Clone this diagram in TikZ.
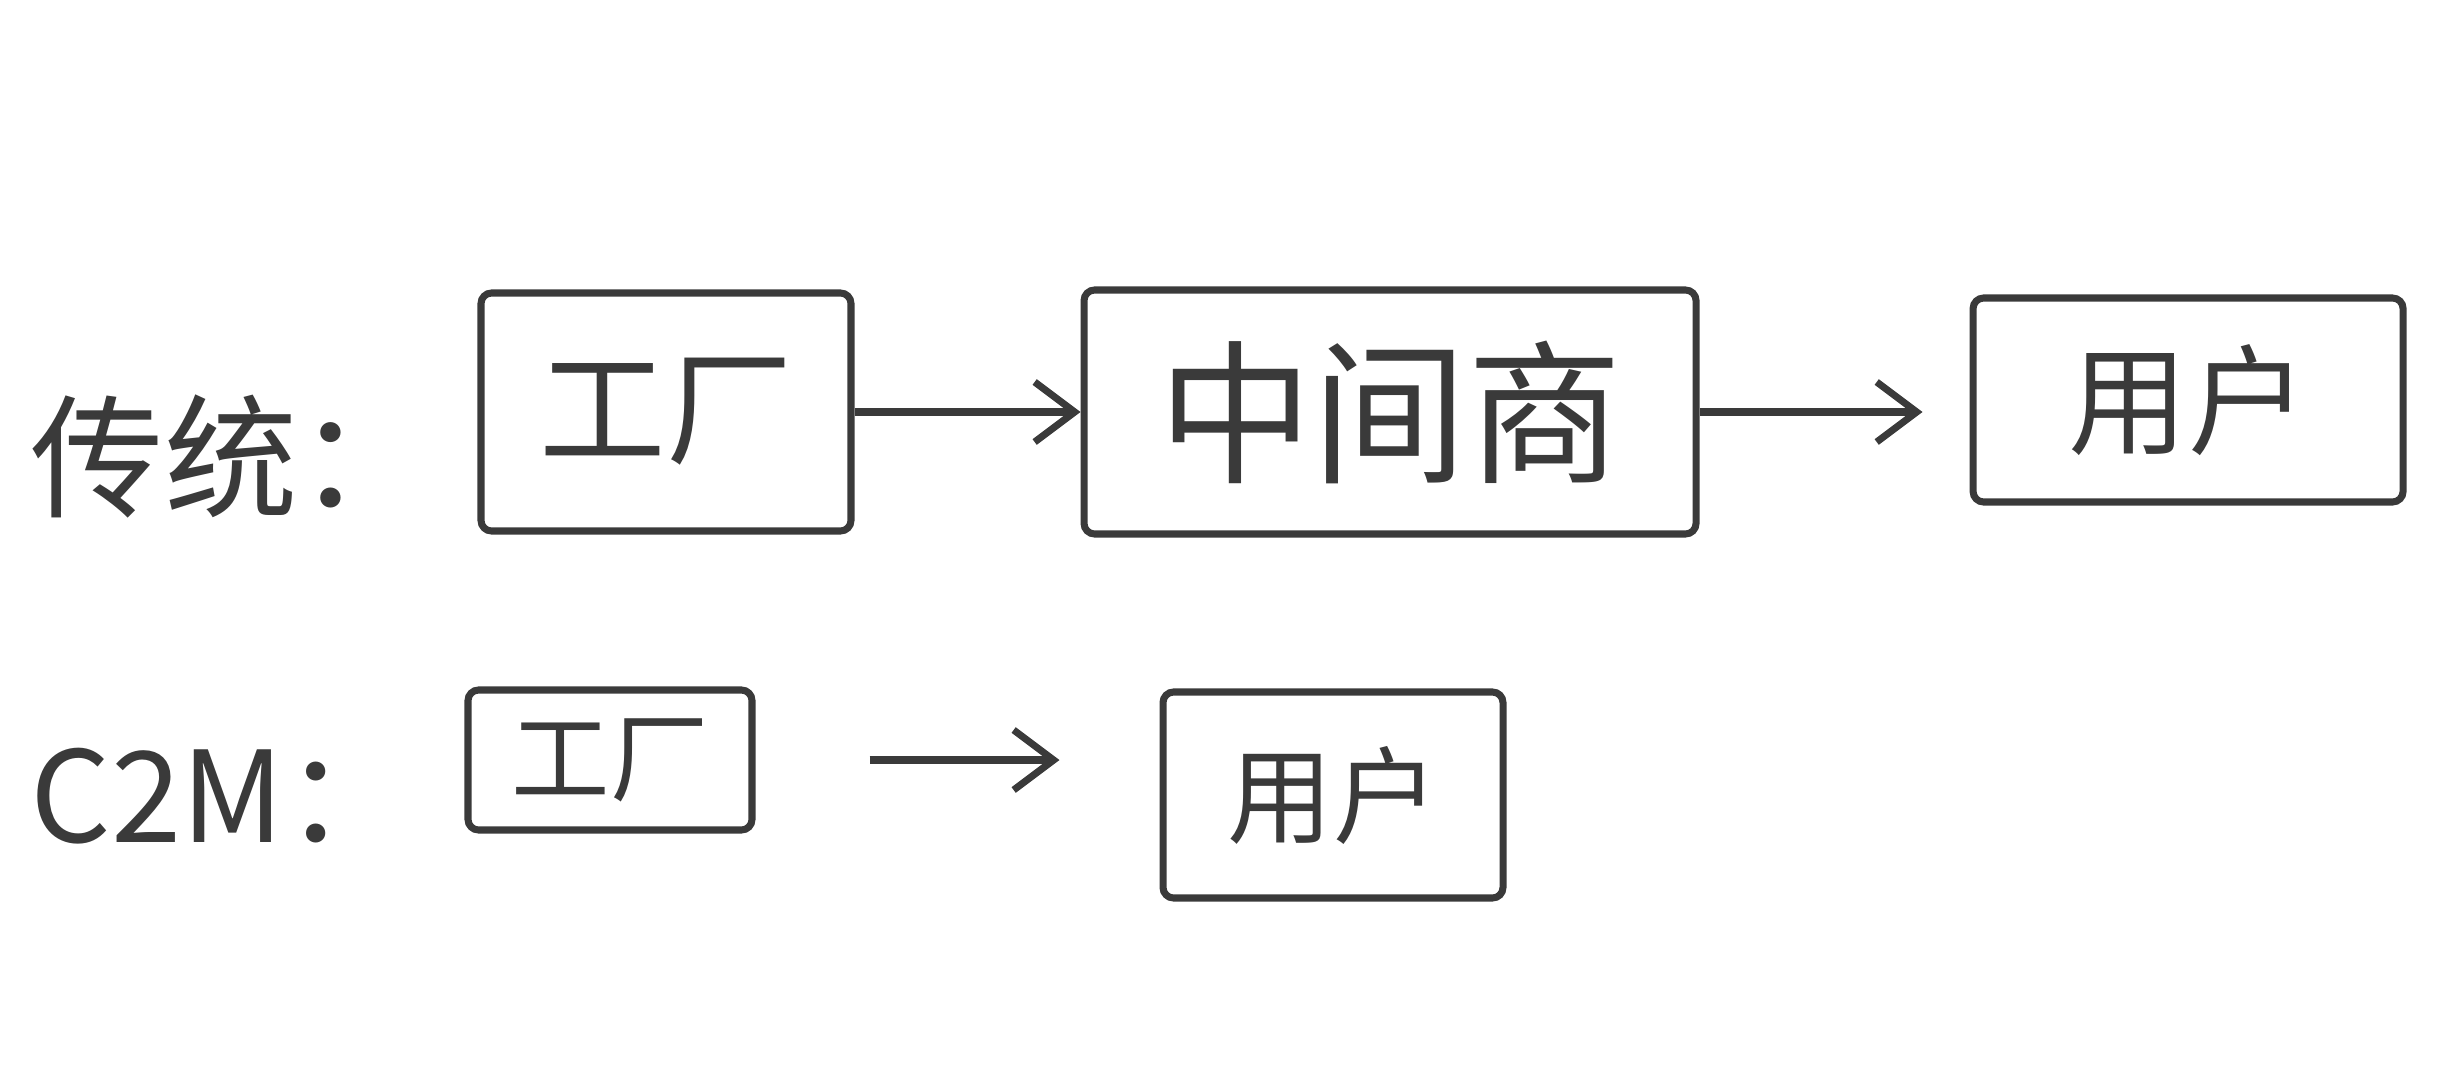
\documentclass[tikz,border=0pt]{standalone}
\usepackage{fontspec}
\setmainfont{Noto Sans CJK SC}
\usepackage{tikz}
\usetikzlibrary{arrows.meta,positioning}
\definecolor{ink}{HTML}{3A3A3A}

\begin{document}
\begin{tikzpicture}[>={Straight Barb[length=4mm,width=6mm]},node distance=22mm,
  box/.style={draw=ink,line width=2pt,rounded corners=3pt,align=center,text=ink,font=\fontsize{36}{40}\selectfont},
  lbl/.style={text=ink,anchor=west,inner sep=0pt},
  arr/.style={->,line width=2pt,ink}]
\useasboundingbox (0,0) rectangle (24.48,10.90);
% first row
\node[lbl,font=\fontsize{38}{44}\selectfont] (old) at (0.30,6.34) {传统：};
\node[box,minimum width=37mm,minimum height=23.8mm] (ft) at (6.66,6.78) {工厂};
\node[box,minimum width=61.2mm,minimum height=24.4mm,right=22.6mm of ft,font=\fontsize{44}{48}\selectfont] (mid) {中间商};
\node[box,minimum width=43mm,minimum height=20.4mm,right=27mm of mid,yshift=1.2mm,font=\fontsize{34}{40}\selectfont] (usr) {用户};
\draw[arr] (ft)--(mid);
\draw[arr,shorten >=4.7mm] (mid.east)--(mid.east-|usr.west);
% second row
\node[lbl,font=\fontsize{36}{42}\selectfont] (cm) at (0.30,2.94) {C2M：};
\node[box,minimum width=28.4mm,minimum height=14mm,font=\fontsize{28}{32}\selectfont] (ft2) at (6.10,3.30) {工厂};
\node[box,minimum width=34mm,minimum height=20.6mm,font=\fontsize{30}{34}\selectfont] (usr2) at (13.33,2.95) {用户};
\draw[arr,shorten <=11.4mm,shorten >=10mm] (ft2.east)--(ft2.east-|usr2.west);
\end{tikzpicture}
\end{document}
